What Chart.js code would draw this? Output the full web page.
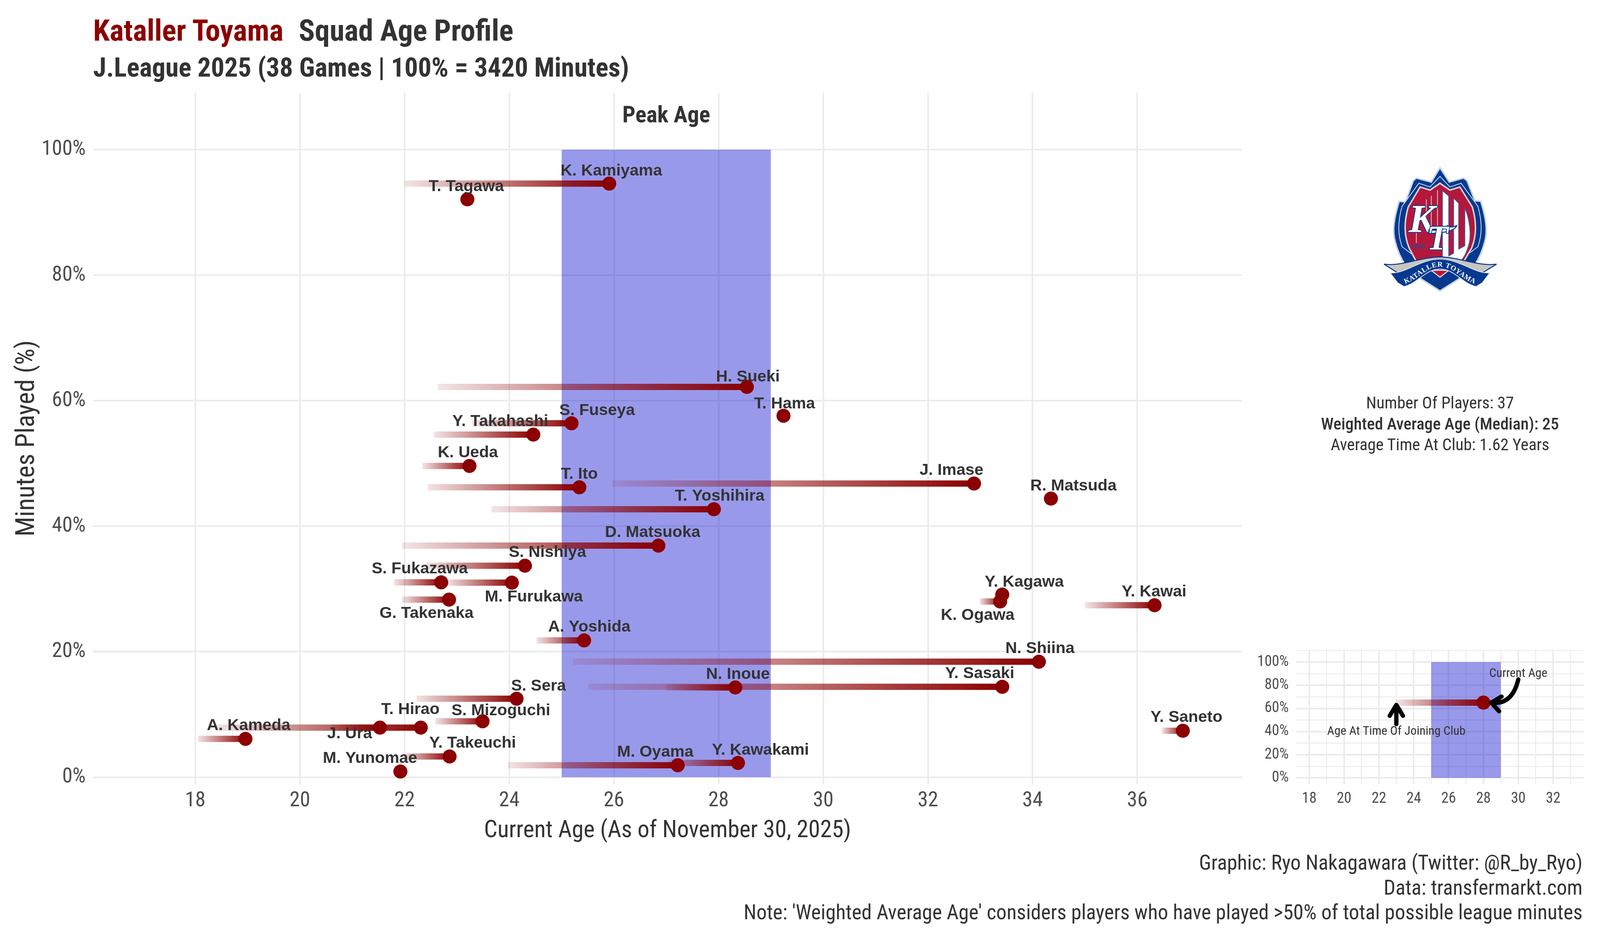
<!DOCTYPE html>
<html lang="en">
	<head>
		<meta charset="UTF-8" />
		<title>Kataller Toyama Squad Age Profile</title>
		<script src="https://cdn.jsdelivr.net/npm/chart.js"></script>
		<style>
			html, body { margin: 0; padding: 0; background: #fff; overflow: hidden; }
			#page { position: relative; width: 100vw; height: 2400px; overflow: hidden; }
			#page canvas { position: absolute; }
			.txt { position: absolute; white-space: nowrap; font-family: "Roboto Condensed", "Liberation Sans Narrow", Roboto, sans-serif; color: #333; }
			#title { left: calc(262px * var(--sx)); top: 30px; font-size: calc(84px * var(--sx)); font-weight: 700; line-height: 96px; }
			#title span { color: #8b0000; margin-right: calc(43px * var(--sx)); }
			#subtitle { left: calc(262px * var(--sx)); top: 128px; font-size: calc(75px * var(--sx)); font-weight: 700; line-height: 90px; }
			#caption { right: calc(49px * var(--sx)); top: 2176px; font-size: calc(58.1px * var(--sx)); line-height: 63.5px; text-align: right; }
			#stats { left: calc(3650px * var(--sx)); width: calc(800px * var(--sx)); top: 1004px; font-size: calc(47px * var(--sx)); line-height: 53.5px; text-align: center; }
			#stats b { font-weight: 500; }
			#crest { position: absolute; }
		</style>
	</head>
	<body>
		<div id="page">
			<canvas id="mainChart" style="left:0;top:0"></canvas>
			<canvas id="insetChart"></canvas>
			<div class="txt" id="title"><span>Kataller Toyama</span>Squad Age Profile</div>
			<div class="txt" id="subtitle">J.League 2025 (38 Games | 100% = 3420 Minutes)</div>
			<div class="txt" id="stats">Number Of Players: 37<br /><b>Weighted Average Age (Median): 25</b><br />Average Time At Club: 1.62 Years</div>
			<div class="txt" id="caption">Graphic: Ryo Nakagawara (Twitter: @R_by_Ryo)<br />Data: transfermarkt.com<br />Note: 'Weighted Average Age' considers players who have played &gt;50% of total possible league minutes</div>
			<svg id="crest" viewBox="0 0 1020 1050">
				<path d="M510,35 L585,150 L700,118 L728,140 L790,300 L838,305 C880,440 895,540 870,630 C850,710 820,770 790,815 L660,930 L510,1025 L360,930 L230,815 C200,770 170,710 150,630 C125,540 140,440 182,305 L232,310 L295,140 L320,118 L440,150 Z" fill="#05398f" stroke="#c7d5e6" stroke-width="12" />
				<path d="M510,105 L590,190 L680,160 L815,345 C850,470 850,570 815,670 L510,900 L205,670 C170,570 170,470 205,345 L340,160 L430,190 Z" fill="#05398f" stroke="#dfe5ee" stroke-width="6" />
				<path d="M510,160 L590,215 L670,190 L770,350 C805,470 805,580 765,680 L700,790 L320,790 L262,680 C220,580 220,470 255,350 L350,190 L430,215 Z" fill="#b5173c" stroke="#d9d4d2" stroke-width="12" />
				<path d="M530,220 L580,262 L580,745 L620,722 L620,280 L660,320 L660,690 L710,662 L710,360 C750,450 760,570 745,640 C730,700 710,745 685,775 L530,775 Z" fill="#fff" stroke="#2a5aa8" stroke-width="5" />
				<path d="M490,215 L490,560 M440,260 L440,520 M400,290 L400,500 M320,560 L320,640" stroke="#c9b9bd" stroke-width="7" fill="none" />
				<path d="M440,860 L510,915 L580,860 Z" fill="#b5173c" stroke="#e6e2e0" stroke-width="8" />
				<text x="365" y="552" text-anchor="middle" font-family="Liberation Serif" font-style="italic" font-weight="700" font-size="320" fill="#fff" stroke="#05398f" stroke-width="12" paint-order="stroke">K</text>
				<path d="M420,535 C500,545 560,530 570,500 C590,520 620,510 645,500 C625,545 560,555 420,565 Z" fill="#fff" stroke="#05398f" stroke-width="8" />
				<text x="490" y="692" text-anchor="middle" font-family="Liberation Serif" font-style="italic" font-weight="700" font-size="280" fill="#fff" stroke="#05398f" stroke-width="12" paint-order="stroke">T</text>
				<text x="335" y="685" text-anchor="middle" font-family="Liberation Sans" font-weight="700" font-size="50" fill="#2b4a86">2008</text>
				<path d="M60,810 C200,830 350,755 510,752 C670,755 820,830 965,810 L850,880 C760,880 650,770 510,770 C370,770 260,880 170,880 Z" fill="#c8c6c0" stroke="#05398f" stroke-width="8" />
				<path d="M110,880 C230,890 350,770 510,770 C670,770 790,890 910,880 L850,960 L800,990 C680,960 630,850 510,850 C390,850 340,960 220,990 L170,960 Z" fill="#05398f" stroke="#dfe5ee" stroke-width="6" />
				<path id="bandText" d="M235,965 C340,930 400,830 510,830 C620,830 680,930 785,965" fill="none" />
				<text font-family="Liberation Serif" font-weight="700" font-size="58" fill="#fff" letter-spacing="3"><textPath href="#bandText" startOffset="50%" text-anchor="middle">KATALLER TOYAMA</textPath></text>
			</svg>
		</div>
		<script>
			const players = ["K. Kamiyama","T. Tagawa","H. Sueki","T. Hama","S. Fuseya","Y. Takahashi","K. Ueda","T. Ito","J. Imase","R. Matsuda","T. Yoshihira","D. Matsuoka","S. Nishiya","S. Fukazawa","M. Furukawa","G. Takenaka","Y. Kagawa","K. Ogawa","Y. Kawai","A. Yoshida","N. Shiina","N. Inoue","Y. Sasaki","S. Sera","T. Hirao","J. Ura","S. Mizoguchi","A. Kameda","Y. Saneto","Y. Takeuchi","M. Yunomae","M. Oyama","Y. Kawakami"];
			const currentAge = [25.91,23.2,28.54,29.24,25.19,24.46,23.24,25.34,32.88,34.35,27.91,26.85,24.3,22.7,24.05,22.85,33.42,33.38,36.33,25.43,34.12,28.32,33.42,24.14,22.31,21.53,23.49,18.96,36.87,22.86,21.92,27.22,28.37];
			const minutesPct = [94.6,92.1,62.2,57.6,56.4,54.6,49.6,46.2,46.8,44.4,42.7,36.9,33.7,31.05,31.0,28.3,29.1,28.0,27.4,21.8,18.4,14.3,14.4,12.5,7.9,7.9,8.9,6.1,7.4,3.3,0.9,1.9,2.27];
			const joinAge = [22.0,null,22.64,null,23.29,22.56,22.34,22.44,25.97,null,23.66,21.95,22.4,21.8,22.8,21.95,null,32.99,35.0,24.52,25.22,27.0,25.51,22.23,18.4,20.6,22.59,18.05,36.47,21.96,null,23.98,27.04];
			const labelAge = [25.95,23.18,28.56,29.26,25.68,23.83,23.21,25.34,32.45,34.78,28.02,26.74,24.73,22.29,24.47,22.42,33.84,32.95,36.32,25.53,34.14,28.37,32.99,24.56,22.11,20.95,23.84,19.02,36.94,23.3,21.34,26.79,28.8];
			const labelPct = [96.6,94.1,63.8,59.5,58.4,56.7,51.7,48.3,48.9,46.4,44.8,39.0,35.8,33.2,28.7,26.1,31.1,25.8,29.5,23.9,20.5,16.35,16.5,14.5,10.76,6.9,10.6,8.2,9.5,5.4,3.0,4.0,4.3];
			const ageTicks = [18,20,22,24,26,28,30,32,34,36];
			const pctTicks = [0,20,40,60,80,100];
			const peakAge = [25,29];
			const peakPct = [100,100];

			const insetAgeTicks = [18,19,20,21,22,23,24,25,26,27,28,29,30,31,32,33];
			const insetPctTicks = [0,10,20,30,40,50,60,70,80,90,100,110];
			const insetJoin = [23];
			const insetCurrent = [28];
			const insetPct = [65];

			const DARK_RED = "#8b0000";
			const FONT = '"Roboto Condensed", "Liberation Sans Narrow", Roboto, sans-serif';

			// reference is 4500 wide, the window may be narrower: keep its proportions
			const W = window.innerWidth || 4500;
			const sx = W / 4500;
			const tickScale = Math.sqrt(sx);
			const page = document.getElementById("page");
			page.style.setProperty("--sx", sx);

			const crest = document.getElementById("crest");
			const crestSize = 0.955;
			crest.style.width = 340 * crestSize + "px";
			crest.style.height = 350 * crestSize + "px";
			crest.style.left = 4050 * sx - 170 * crestSize + "px";
			crest.style.top = 585 - 175 * crestSize + "px";

			const mainCanvas = document.getElementById("mainChart");
			mainCanvas.width = W;
			mainCanvas.height = 2400;
			const insetCanvas = document.getElementById("insetChart");
			insetCanvas.width = 1030 * sx;
			insetCanvas.height = 460;
			insetCanvas.style.left = 3470 * sx + "px";
			insetCanvas.style.top = "1620px";

			function fade(chart, from, to) {
				if (!chart.chartArea) return DARK_RED;
				const x = chart.scales.x;
				const g = chart.ctx.createLinearGradient(x.getPixelForValue(from), 0, x.getPixelForValue(to), 0);
				g.addColorStop(0, "rgba(139,0,0,0.1)");
				g.addColorStop(1, "rgba(139,0,0,1)");
				return g;
			}

			function linkDataset(from, to, y) {
				return {
					type: "scatter",
					showLine: true,
					data: [{ x: from, y: y }, { x: to, y: y }],
					borderWidth: 16,
					borderColor: (c) => fade(c.chart, from, to),
					pointRadius: 0,
					tension: 0,
					order: 5,
				};
			}

			function peakDataset() {
				return {
					type: "scatter",
					showLine: true,
					data: peakAge.map((a, i) => ({ x: a, y: peakPct[i] })),
					borderWidth: 0,
					pointRadius: 0,
					fill: { value: 0 },
					backgroundColor: "rgba(0,0,205,0.4)",
					order: 10,
				};
			}

			function dotDataset(xs, ys) {
				return {
					type: "scatter",
					data: xs.map((a, i) => ({ x: a, y: ys[i] })),
					pointRadius: 18,
					pointBackgroundColor: DARK_RED,
					pointBorderWidth: 0,
					order: 1,
				};
			}

			const links = [];
			players.forEach((p, i) => {
				if (joinAge[i] !== null) links.push(linkDataset(joinAge[i], currentAge[i], minutesPct[i]));
			});

			// player names and the "Peak Age" heading
			const mainText = {
				id: "mainText",
				afterDatasetsDraw(chart) {
					const { ctx, scales } = chart;
					ctx.save();
					ctx.fillStyle = "#333";
					ctx.textAlign = "center";
					ctx.textBaseline = "middle";
					ctx.font = "bold " + 45.5 * sx + 'px "Liberation Sans"';
					players.forEach((p, i) => {
						ctx.fillText(p, scales.x.getPixelForValue(labelAge[i]), scales.y.getPixelForValue(labelPct[i]));
					});
					ctx.font = "bold " + 65 * sx + "px " + FONT;
					ctx.fillText("Peak Age", scales.x.getPixelForValue(27), scales.y.getPixelForValue(105.3));
					ctx.restore();
				},
			};

			new Chart(mainCanvas, {
				type: "scatter",
				data: { datasets: [peakDataset(), ...links, dotDataset(currentAge, minutesPct)] },
				plugins: [mainText],
				options: {
					responsive: false,
					animation: false,
					devicePixelRatio: 1,
					layout: { padding: { left: 30, top: 237, right: 1007 * sx, bottom: 237 } },
					plugins: { legend: { display: false }, tooltip: { enabled: false } },
					scales: {
						x: {
							type: "linear",
							min: 16.05,
							max: 38,
							afterBuildTicks: (s) => { s.ticks = ageTicks.map((v) => ({ value: v })); },
							afterFit: (s) => { s.height = 157; },
							border: { display: false },
							grid: { color: "#ebebeb", lineWidth: 4, drawTicks: false },
							ticks: { color: "#4d4d4d", font: { family: FONT, size: 56 * tickScale }, padding: 12, autoSkip: false, maxRotation: 0 },
							title: { display: true, text: "Current Age (As of November 30, 2025)", color: "#333", font: { family: FONT, size: 66.7 * sx }, padding: 0 },
						},
						y: {
							min: -1.09,
							max: 109.1,
							afterBuildTicks: (s) => { s.ticks = pctTicks.map((v) => ({ value: v })); },
							afterFit: (s) => { s.width = 262 * sx - 30; },
							border: { display: false },
							grid: { color: "#ebebeb", lineWidth: 4, drawTicks: false },
							ticks: { color: "#4d4d4d", font: { family: FONT, size: 56 * tickScale }, padding: 21 * sx, callback: (v) => v + "%" },
							title: { display: true, text: "Minutes Played (%)", color: "#333", font: { family: FONT, size: 66.7 }, padding: 0 },
						},
					},
				},
			});

			// arrows and the two notes of the small key chart
			const insetText = {
				id: "insetText",
				afterDatasetsDraw(chart) {
					const { ctx, scales } = chart;
					const px = (v) => scales.x.getPixelForValue(v);
					const py = (v) => scales.y.getPixelForValue(v);
					ctx.save();
					ctx.strokeStyle = "#000";
					ctx.lineWidth = 11;
					ctx.lineCap = "round";
					ctx.lineJoin = "round";
					ctx.beginPath();
					ctx.moveTo(px(23), py(46.4));
					ctx.lineTo(px(23), py(63));
					ctx.moveTo(px(22.62), py(53.6));
					ctx.lineTo(px(23), py(63));
					ctx.lineTo(px(23.38), py(53.6));
					ctx.stroke();
					ctx.beginPath();
					ctx.moveTo(px(30), py(85));
					ctx.quadraticCurveTo(px(29.65), py(63), px(28.5), py(65));
					ctx.moveTo(px(29.04), py(70.2));
					ctx.lineTo(px(28.45), py(65));
					ctx.lineTo(px(28.9), py(57.5));
					ctx.stroke();
					ctx.fillStyle = "#333";
					ctx.textAlign = "center";
					ctx.textBaseline = "middle";
					ctx.font = 35 * sx + "px " + FONT;
					ctx.fillText("Current Age", px(30), py(90));
					ctx.fillText("Age At Time Of Joining Club", px(23), py(40));
					ctx.restore();
				},
			};

			new Chart(insetCanvas, {
				type: "scatter",
				data: { datasets: [peakDataset(), linkDataset(insetJoin[0], insetCurrent[0], insetPct[0]), dotDataset(insetCurrent, insetPct)] },
				plugins: [insetText],
				options: {
					responsive: false,
					animation: false,
					devicePixelRatio: 1,
					layout: { padding: { left: 60 * sx, top: 36, right: 45 * sx, bottom: 20 } },
					plugins: { legend: { display: false }, tooltip: { enabled: false } },
					scales: {
						x: {
							type: "linear",
							min: 17.27,
							max: 33.75,
							afterBuildTicks: (s) => { s.ticks = insetAgeTicks.map((v) => ({ value: v })); },
							afterFit: (s) => { s.height = 54; },
							border: { display: false },
							grid: { color: "#ebebeb", lineWidth: (c) => (c.tick.value % 2 === 0 ? 4 : 2.3), drawTicks: false },
							ticks: { color: "#4d4d4d", font: { family: FONT, size: 40 * tickScale }, padding: 16, autoSkip: false, maxRotation: 0, callback: (v) => (v % 2 === 0 ? v : "") },
						},
						y: {
							min: -5.3,
							max: 110.5,
							afterBuildTicks: (s) => { s.ticks = insetPctTicks.map((v) => ({ value: v })); },
							afterFit: (s) => { s.width = 117 * sx; },
							border: { display: false },
							grid: { color: "#ebebeb", lineWidth: (c) => (c.tick.value % 20 === 0 ? 4 : 2.3), drawTicks: false },
							ticks: { color: "#4d4d4d", font: { family: FONT, size: 40 * tickScale }, padding: 22 * sx, autoSkip: false, callback: (v) => (v % 20 === 0 && v <= 100 ? v + "%" : "") },
						},
					},
				},
			});
		</script>
	</body>
</html>
